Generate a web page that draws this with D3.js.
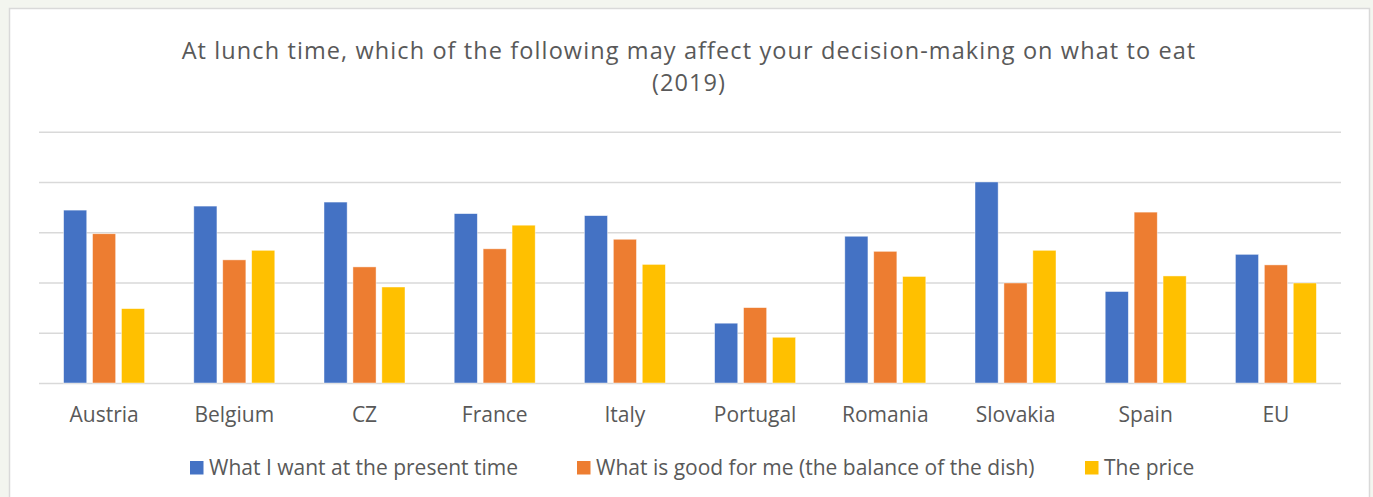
<!DOCTYPE html>
<html>
<head>
<meta charset="utf-8">
<script src="https://cdn.jsdelivr.net/npm/d3@7"></script>
<style>
    body { margin: 0; background: #f3f5ef; }
    .chart { width: 1373px; height: 497px; }
    text { font-family: "Open Sans", sans-serif; fill: #595959; }
</style>
</head>
<body>
<div class="chart"></div>
<script>
const countries = ["Austria", "Belgium", "CZ", "France", "Italy", "Portugal", "Romania", "Slovakia", "Spain", "EU"]
const seriesNames = ["What I want at the present time", "What is good for me (the balance of the dish)", "The price"]
const wantNow = [34.4, 35.2, 36.0, 33.7, 33.3, 11.9, 29.2, 40.0, 18.2, 25.6]
const goodForMe = [29.7, 24.5, 23.1, 26.7, 28.6, 15.0, 26.2, 19.9, 34.0, 23.5]
const price = [14.8, 26.4, 19.1, 31.4, 23.6, 9.1, 21.2, 26.4, 21.3, 19.9]
const gridTicks = [0, 10, 20, 30, 40, 50]
const colors = ["#4472c4", "#ed7d31", "#ffc000"]

function drawChart() {
    const w = 1373, h = 497;
    const padding = { left: 39, right: 32, top: 132, bottom: 114 };

    const svg = d3.select('.chart')
        .append("svg")
        .attr("width", w)
        .attr("height", h);

    // chart area box
    svg.append("rect")
        .attr("x", 9.5).attr("y", 8.5)
        .attr("width", 1360).attr("height", 500)
        .attr("fill", "#fff")
        .attr("stroke", "#d9d9d9")
        .attr("stroke-width", 1.5);

    // title, two lines
    const titleLines = ["At lunch time, which of the following may affect your decision-making on what to eat", "(2019)"];
    svg.append("g").selectAll("text")
        .data(titleLines)
        .enter().append("text")
        .attr("x", 689)
        .attr("y", (d, i) => 59 + i * 32)
        .attr("text-anchor", "middle")
        .style("font-size", "23.5px")
        .style("letter-spacing", "1.1px")
        .text(d => d);

    const x0 = d3.scaleBand()
        .domain(countries)
        .range([padding.left, 1341])
        .padding(0);

    const groupWidth = 81;
    const x1 = d3.scaleBand()
        .domain(seriesNames)
        .range([(x0.bandwidth() - groupWidth) / 2, (x0.bandwidth() + groupWidth) / 2])
        .paddingInner(0.2);

    const y = d3.scaleLinear()
        .domain([0, 50])
        .range([383, 131.7]);

    // gridlines
    const yAxis = d3.axisLeft(y)
        .tickValues(gridTicks)
        .tickSize(-(1341 - padding.left))
        .tickFormat("");
    const grid = svg.append("g")
        .attr("transform", `translate(${padding.left},0)`)
        .call(yAxis);
    grid.select(".domain").remove();
    grid.selectAll("line").attr("stroke", "#d9d9d9").attr("stroke-width", 1.5);

    const series = [wantNow, goodForMe, price];
    const rows = countries.map((c, i) => ({ country: c, values: series.map((s, k) => ({ name: seriesNames[k], value: s[i], color: colors[k] })) }));

    const groups = svg.append("g").selectAll("g")
        .data(rows)
        .enter().append("g")
        .attr("transform", d => `translate(${x0(d.country)},0)`);

    groups.selectAll("rect")
        .data(d => d.values)
        .enter().append("rect")
        .attr("x", d => x1(d.name))
        .attr("width", x1.bandwidth())
        .attr("y", d => y(d.value))
        .attr("height", d => y(0) - y(d.value))
        .attr("fill", d => d.color)
        .attr("stroke", "#fff")
        .attr("stroke-opacity", 0.6)
        .attr("stroke-width", 0.75);

    // x axis labels
    const xAxis = d3.axisBottom(x0).tickSize(0).tickPadding(0);
    const xg = svg.append("g")
        .attr("transform", "translate(0,383)")
        .call(xAxis);
    xg.select(".domain").remove();
    xg.selectAll("text")
        .attr("dy", 0)
        .attr("y", 39)
        .style("font-family", "Open Sans, sans-serif")
        .style("font-size", "21px")
        .attr("fill", "#595959");

    // legend
    const legendX = [190, 577, 1085];
    const legend = svg.append("g").selectAll("g")
        .data(seriesNames)
        .enter().append("g")
        .attr("transform", (d, i) => `translate(${legendX[i]},461)`);
    legend.append("rect")
        .attr("width", 13.5).attr("height", 13.5)
        .attr("fill", (d, i) => colors[i]);
    legend.append("text")
        .attr("x", 19).attr("y", 14)
        .style("font-size", "21px")
        .text(d => d);
}

drawChart();
</script>
</body>
</html>
